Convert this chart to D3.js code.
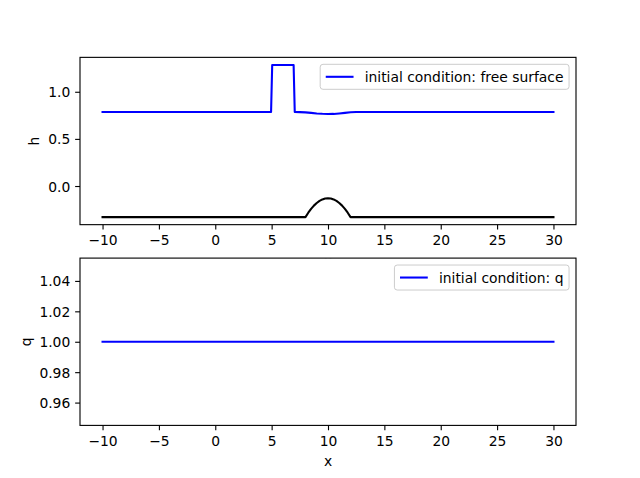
<!DOCTYPE html>
<html>
<head>
<meta charset="utf-8">
<script src="https://cdn.jsdelivr.net/npm/d3@7"></script>
<style>
body { margin: 0; background: #fff; }
text { font-family: "DejaVu Sans", sans-serif; font-size: 13.89px; fill: #000; }
</style>
</head>
<body>
<svg width="640" height="478"></svg>
<script>
// free surface (blue)
var surfX = [-10, 4.95, 5.05, 6.95, 7.05, 7.5, 8, 8.5, 9, 9.5, 10, 10.5, 11, 11.5, 12, 12.5, 30];
var surfH = [0.785, 0.785, 1.284, 1.284, 0.785, 0.784, 0.781, 0.776, 0.770, 0.766, 0.764, 0.765, 0.770, 0.776, 0.782, 0.785, 0.785];
// bottom topography (black)
var bedX = [-10, 8, 8.25, 8.5, 8.75, 9, 9.25, 9.5, 9.75, 10, 10.25, 10.5, 10.75, 11, 11.25, 11.5, 11.75, 12, 30];
var bedH = [-0.33, -0.33, -0.2831, -0.2425, -0.2081, -0.18, -0.1581, -0.1425, -0.1331, -0.13, -0.1331, -0.1425, -0.1581, -0.18, -0.2081, -0.2425, -0.2831, -0.33, -0.33];
// discharge q
var qX = [-10, 30];
var qV = [1.0, 1.0];

var xTicks = [-10, -5, 0, 5, 10, 15, 20, 25, 30];
var hTicks = [0.0, 0.5, 1.0];
var qTicks = [0.96, 0.98, 1.00, 1.02, 1.04];

var svg = d3.select("svg");
var left = 80, right = 576;
var fs = 13.89;
var tickLen = 4.86, tickPad = 4.86;

function minus(s) { return s.replace("-", "\u2212"); }

function panel(top, bottom, yDomain, yTicks, yFmt, ylabel, series, legendText) {
  var g = svg.append("g");
  g.append("rect").attr("x", left).attr("y", top).attr("width", right - left).attr("height", bottom - top).attr("fill", "#fff");
  var x = d3.scaleLinear().domain([-12, 32]).range([left, right]);
  var y = d3.scaleLinear().domain(yDomain).range([bottom, top]);

  var xa = g.append("g").attr("transform", "translate(0," + bottom + ")")
    .call(d3.axisBottom(x).tickValues(xTicks).tickSize(tickLen).tickPadding(tickPad).tickFormat(function(d){ return minus(String(d)); }));
  xa.select(".domain").remove();
  xa.selectAll("line").attr("stroke", "#000").attr("stroke-width", 1.11);
  xa.selectAll("text").attr("dy", null).attr("y", 20.8).style("font-size", fs + "px").style("font-family", "DejaVu Sans");

  var ya = g.append("g").attr("transform", "translate(" + left + ",0)")
    .call(d3.axisLeft(y).tickValues(yTicks).tickSize(tickLen).tickPadding(tickPad).tickFormat(function(d){ return minus(d3.format(yFmt)(d)); }));
  ya.select(".domain").remove();
  ya.selectAll("line").attr("stroke", "#000").attr("stroke-width", 1.11);
  ya.selectAll("text").attr("dy", null).attr("y", 5).style("font-size", fs + "px").style("font-family", "DejaVu Sans");

  var minLeft = left;
  ya.selectAll("text").each(function(){ var b = this.getBBox(); minLeft = Math.min(minLeft, left + b.x); });
  g.append("text").attr("transform", "translate(" + (minLeft - 5.56 - 3.2) + "," + ((top + bottom) / 2) + ") rotate(-90)")
    .attr("text-anchor", "middle").text(ylabel);
  g.append("text").attr("x", x(10)).attr("y", bottom + 41).attr("text-anchor", "middle").text("x");

  var line = d3.line().x(function(d){ return x(d[0]); }).y(function(d){ return y(d[1]); });
  series.forEach(function(s) {
    g.append("path").attr("d", line(d3.zip(s.xs, s.ys))).attr("fill", "none")
      .attr("stroke", s.color).attr("stroke-width", 2.08).attr("stroke-linejoin", "round").attr("stroke-linecap", "square");
  });

  g.append("rect").attr("x", left).attr("y", top).attr("width", right - left).attr("height", bottom - top)
    .attr("fill", "none").attr("stroke", "#000").attr("stroke-width", 1.11);

  // legend, upper right
  var lg = g.append("g");
  var t = lg.append("text").text(legendText);
  var tw = t.node().getComputedTextLength();
  var pad = 5.56, hl = 27.8, hp = 11.1;
  var bw = pad + hl + hp + tw + pad, bh = 25;
  var bx = right - 6.94 - bw, by = top + 6.94;
  lg.insert("rect", "text").attr("x", bx).attr("y", by).attr("width", bw).attr("height", bh).attr("rx", 2.8)
    .attr("fill", "#fff").attr("fill-opacity", 0.8).attr("stroke", "#cccccc").attr("stroke-width", 1);
  lg.append("line").attr("x1", bx + pad).attr("x2", bx + pad + hl).attr("y1", by + bh / 2).attr("y2", by + bh / 2)
    .attr("stroke", series[0].color).attr("stroke-width", 2.08);
  t.attr("x", bx + pad + hl + hp).attr("y", by + bh / 2 + 5);
}

panel(57.36, 224.66, [-0.41, 1.365], hTicks, ".1f", "h",
  [{xs: surfX, ys: surfH, color: "#0000ff"}, {xs: bedX, ys: bedH, color: "#000000"}],
  "initial condition: free surface");
panel(258.1, 425.4, [0.945, 1.055], qTicks, ".2f", "q",
  [{xs: qX, ys: qV, color: "#0000ff"}],
  "initial condition: q");
</script>
</body>
</html>
